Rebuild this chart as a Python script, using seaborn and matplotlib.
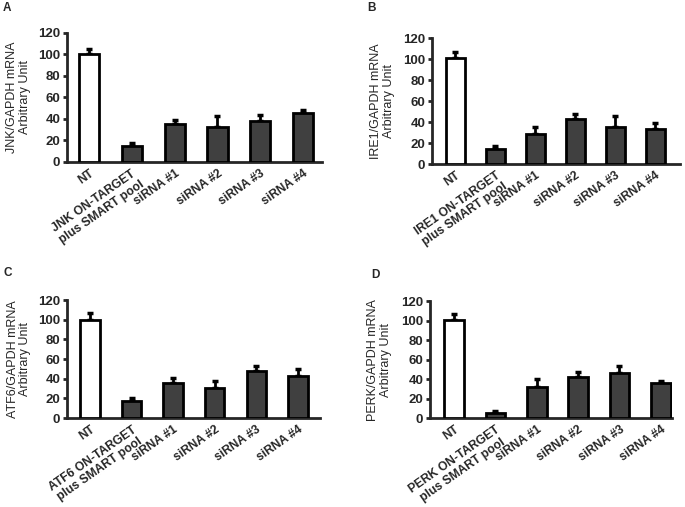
import matplotlib
matplotlib.use('Agg')
import matplotlib.pyplot as plt
import numpy as np
import seaborn as sns

# Data (mean and upper error)
groups = ['NT', 'ON-TARGET', 'siRNA #1', 'siRNA #2', 'siRNA #3', 'siRNA #4']
genes = ['JNK', 'IRE1', 'ATF6', 'PERK']
panel_letters = ['A', 'B', 'C', 'D']

jnk_mean = [100, 15, 35, 33, 38.5, 45.5]
jnk_err = [5.5, 2.5, 4, 9.5, 5.5, 3]
ire1_mean = [100.5, 14, 28.5, 42.5, 35.5, 33.5]
ire1_err = [6.5, 3.5, 7, 5, 10, 5.5]
atf6_mean = [100, 17.5, 36, 30.5, 47.5, 42.5]
atf6_err = [6.5, 2.5, 5, 7, 5.5, 7.5]
perk_mean = [100.5, 5, 32, 42, 46.5, 35.5]
perk_err = [6.5, 2.5, 8, 5, 7, 2.5]

means = [jnk_mean, ire1_mean, atf6_mean, perk_mean]
errs = [jnk_err, ire1_err, atf6_err, perk_err]

sns.set_style('ticks')
plt.rcParams['font.family'] = ['Liberation Sans', 'DejaVu Sans']

fig = plt.figure(figsize=(6.85, 5.07), dpi=100)

# axes rectangles [left, bottom, width, height] and x limits per panel
rects = [
    [0.098, 0.6805, 0.372, 0.2545],
    [0.631, 0.6765, 0.362, 0.2485],
    [0.098, 0.1755, 0.369, 0.2325],
    [0.628, 0.1755, 0.353, 0.2305],
]
xlims = [(-0.51, 5.44), (-0.575, 5.625), (-0.55, 5.53), (-0.58, 5.27)]
label_x = [-0.19, -0.2, -0.19, -0.21]
letter_pos = [(3, 8), (367, 8), (3, 273), (371, 275)]

palette = ['white'] + ['#404040'] * 5

for i, gene in enumerate(genes):
    ax = fig.add_axes(rects[i])
    tick_labels = ['NT', f'{gene} ON-TARGET\nplus SMART pool',
                   'siRNA #1', 'siRNA #2', 'siRNA #3', 'siRNA #4']
    sns.barplot(x=groups, y=means[i], hue=groups, palette=palette,
                legend=False, width=0.47, edgecolor='black', linewidth=2,
                ax=ax, zorder=3)
    ax.errorbar(np.arange(len(groups)), means[i],
                yerr=[np.zeros(len(groups)), errs[i]], fmt='none',
                ecolor='black', elinewidth=2, capsize=2.5, capthick=2.5,
                zorder=2)
    ax.set_ylim(0, 120)
    ax.set_xlim(*xlims[i])
    ax.set_yticks(range(0, 121, 20))
    ax.set_xticks(range(len(groups)))
    ax.set_xticklabels(tick_labels, rotation=35, ha='right',
                       rotation_mode='anchor', fontweight='bold',
                       fontsize=8.7, multialignment='center',
                       linespacing=1.15)
    for lab in ax.get_yticklabels():
        lab.set_fontweight('bold')
        lab.set_fontsize(9.5)
    ax.tick_params(axis='x', length=0, pad=4)
    ax.tick_params(axis='y', length=3, width=2, pad=2)
    sns.despine(ax=ax)
    for s in ['left', 'bottom']:
        ax.spines[s].set_linewidth(2)
    ax.set_ylabel(f'{gene}/GAPDH mRNA\nArbitrary Unit', fontsize=9,
                  linespacing=1.05)
    ax.yaxis.label.set_va('center')
    ax.yaxis.set_label_coords(label_x[i], 0.5)
    ax.set_facecolor('white')

    lx, ly = letter_pos[i]
    fig.text(lx / 685, 1 - ly / 507, panel_letters[i], fontsize=8.5,
             fontweight='bold', va='center', ha='left')

fig.savefig('out.png', dpi=100, facecolor='white')
